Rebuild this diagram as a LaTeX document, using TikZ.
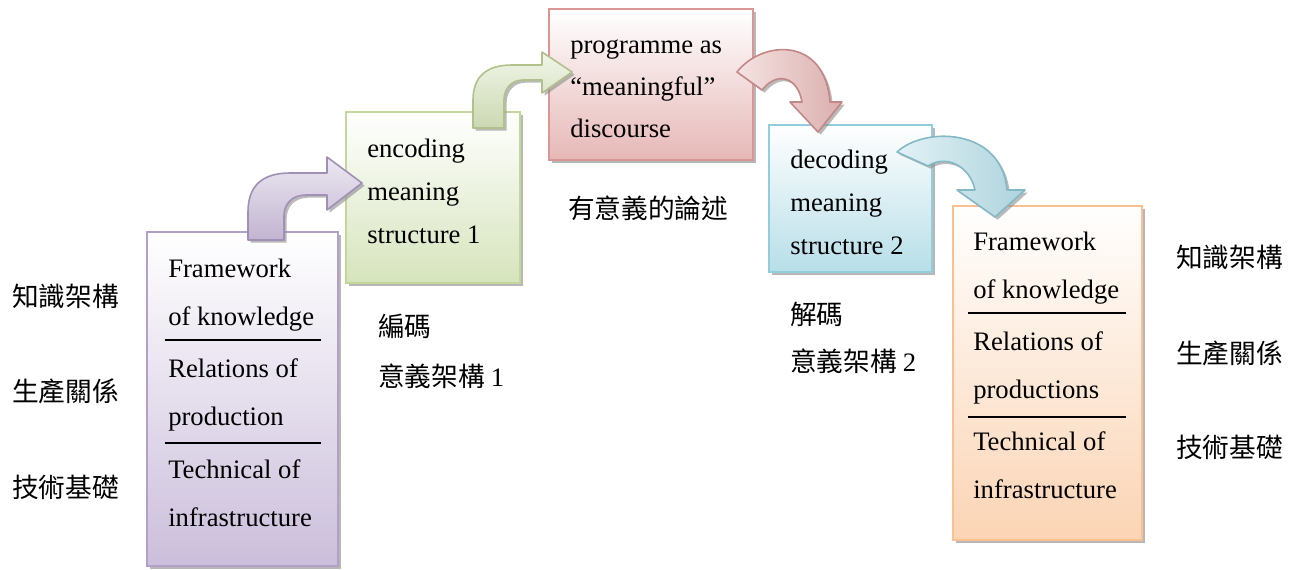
\documentclass[tikz,border=0pt]{standalone}
\usepackage{fontspec}
\setmainfont{Liberation Serif}
\newfontfamily\cjk{Noto Sans CJK TC}
\usetikzlibrary{shadows}

\definecolor{prplline}{RGB}{178,160,200}
\definecolor{prplfill}{RGB}{203,190,219}
\definecolor{grnline}{RGB}{196,215,155}
\definecolor{grnfill}{RGB}{214,228,188}
\definecolor{redline}{RGB}{217,150,148}
\definecolor{redfill}{RGB}{230,184,183}
\definecolor{bluline}{RGB}{146,205,220}
\definecolor{blufill}{RGB}{183,222,232}
\definecolor{orgline}{RGB}{250,192,143}
\definecolor{orgfill}{RGB}{251,212,180}

\tikzset{
  box/.style={line width=1.6pt, top color=white,
    drop shadow={shadow xshift=2.5pt, shadow yshift=-2.5pt, fill=black!40, opacity=.7}},
  bent/.style={line width=1.2pt, line join=round,
    drop shadow={shadow xshift=2pt, shadow yshift=-2pt, fill=black!45, opacity=.6}},
  txt/.style={anchor=base west, inner sep=0pt, align=left, font=\fontsize{20}{36}\selectfont},
  zh/.style={anchor=base west, inner sep=0pt, align=left, font=\cjk\fontsize{20}{36}\selectfont},
  divider/.style={line width=1.2pt}
}

\begin{document}
\begin{tikzpicture}[x=0.75pt, y=-0.75pt]
\useasboundingbox (0,0) rectangle (1298,569);

% boxes
\draw[box, draw=prplline, bottom color=prplfill] (147,232) rectangle (338,566);
\draw[box, draw=grnline, bottom color=grnfill] (346,112) rectangle (520,283);
\draw[box, draw=redline, bottom color=redfill] (549,9) rectangle (753,160);
\draw[box, draw=bluline, bottom color=blufill] (769,125) rectangle (932,272);
\draw[box, draw=orgline, bottom color=orgfill] (953,206) rectangle (1142,540);

% bent arrows
\draw[bent, draw=prplline!90!black, top color=prplfill!35, bottom color=prplfill!95!black]
  (248,240) -- (248,212) .. controls (248,186) and (262,173) .. (290,173) -- (327,173)
  -- (327,157) -- (362,183) -- (327,210) -- (327,195) -- (306,195)
  .. controls (293,195) and (284,203) .. (284,216) -- (284,240) -- cycle;
\draw[bent, draw=grnline!90!black, top color=grnfill!35, bottom color=grnfill!95!black]
  (473,128) -- (473,100) .. controls (473,77) and (486,65) .. (512,65) -- (542,65)
  -- (542,52) -- (572,72) -- (542,93) -- (542,80) -- (523,80)
  .. controls (512,80) and (504,88) .. (504,100) -- (504,128) -- cycle;
\draw[bent, draw=redline!90!black, left color=redfill!40, right color=redfill!95!black]
  (737,72) .. controls (762,40) and (825,36) .. (830,102) -- (842,102) -- (818,132)
  -- (790,102) -- (802,102) .. controls (798,78) and (778,70) .. (762,90) -- cycle;
\draw[bent, draw=bluline!90!black, left color=blufill!40, right color=blufill!95!black]
  (897,152) .. controls (925,126) and (1002,128) .. (1007,190) -- (1025,190) -- (995,217)
  -- (957,190) -- (975,190) .. controls (970,166) and (946,154) .. (928,166) -- cycle;

% texts in the boxes (anchored at the last line)
\node[txt] (fkL) at (168,325) {Framework\\of knowledge};
\node[txt] (rpL) at (168,425) {Relations of\\production};
\node[txt] (tiL) at (168,526) {Technical of\\infrastructure};
\draw[divider] (165,340) -- (321,340);
\draw[divider] (165,443) -- (321,443);

\node[txt, font=\fontsize{20}{32}\selectfont] (enc) at (367,243) {encoding\\meaning\\structure 1};
\node[txt, font=\fontsize{20}{31.5}\selectfont] (prog) at (570,137) {programme as\\“meaningful”\\discourse};
\node[txt, font=\fontsize{20}{32}\selectfont] (dec) at (790,254) {decoding\\meaning\\structure 2};

\node[txt] (fkR) at (973,298) {Framework\\of knowledge};
\node[txt] (rpR) at (973,398) {Relations of\\productions};
\node[txt] (tiR) at (973,498) {Technical of\\infrastructure};
\draw[divider] (968,313) -- (1126,313);
\draw[divider] (968,417) -- (1126,417);

% chinese labels
\node[zh] (zsL) at (12,306) {知識架構};
\node[zh] (scL) at (12,401) {生產關係};
\node[zh] (jsL) at (12,497) {技術基礎};
\node[zh] (zsR) at (1176,267) {知識架構};
\node[zh] (scR) at (1176,363) {生產關係};
\node[zh] (jsR) at (1176,457) {技術基礎};
\node[zh, font=\cjk\fontsize{20}{37}\selectfont] (bm) at (378,386) {編碼\\意義架構 {\rmfamily 1}};
\node[zh] (yy) at (568,218) {有意義的論述};
\node[zh, font=\cjk\fontsize{20}{35}\selectfont] (jm) at (790,371) {解碼\\意義架構 {\rmfamily 2}};
\end{tikzpicture}
\end{document}
